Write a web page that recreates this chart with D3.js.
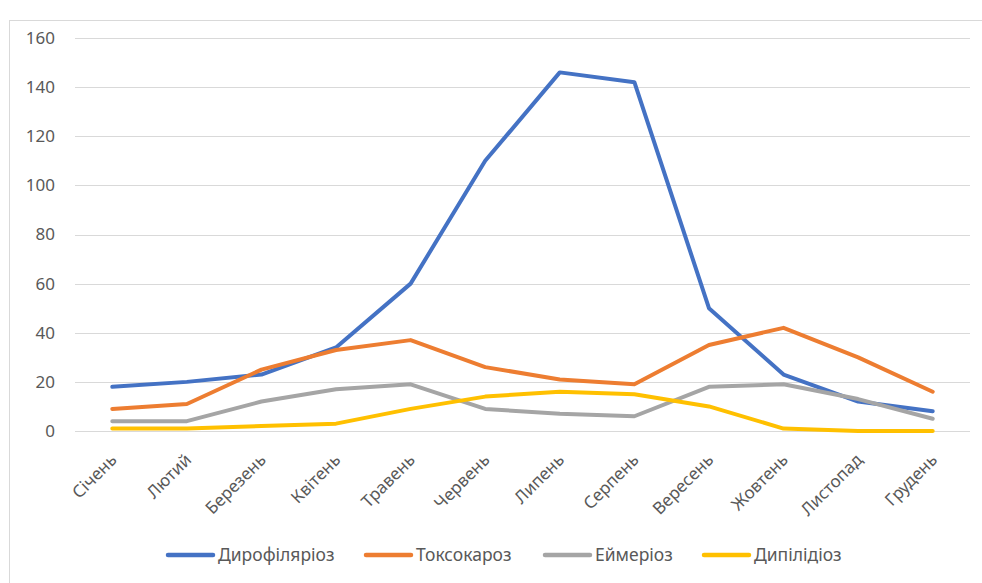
<!DOCTYPE html>
<html><head><meta charset="utf-8">
<script src="https://cdn.jsdelivr.net/npm/d3@7"></script>
<style>html,body{margin:0;padding:0;background:#fff;}svg{display:block;}</style>
</head><body>
<svg id="c" width="982" height="583"></svg>
<script>
const months = ["Січень","Лютий","Березень","Квітень","Травень","Червень","Липень","Серпень","Вересень","Жовтень","Листопад","Грудень"];
const seriesNames = ["Дирофіляріоз","Токсокароз","Еймеріоз","Дипілідіоз"];
const dirofilariasis = [18,20,23,34,60,110,146,142,50,23,12,8];
const toxocarosis = [9,11,25,33,37,26,21,19,35,42,30,16];
const eimeriosis = [4,4,12,17,19,9,7,6,18,19,13,5];
const dipylidiosis = [1,1,2,3,9,14,16,15,10,1,0,0];
const yTicks = [0,20,40,60,80,100,120,140,160];
const colors = ["#4472C4","#ED7D31","#A5A5A5","#FFC000"];
const allSeries = [dirofilariasis, toxocarosis, eimeriosis, dipylidiosis];

const svg = d3.select("#c");
const font = "'Noto Sans', 'Open Sans', sans-serif";

// chart frame
svg.append("rect").attr("x",9.5).attr("y",20.5).attr("width",1100).attr("height",700)
  .attr("fill","#fff").attr("stroke","#d9d9d9").attr("stroke-width",1);

const x = d3.scalePoint().domain(months).range([75,970]).padding(0.5);
const y = d3.scaleLinear().domain([0,160]).range([431,38]);

// gridlines
svg.append("g").selectAll("line").data(yTicks).join("line")
  .attr("x1",75).attr("x2",970)
  .attr("y1",d=>Math.round(y(d))+0.5).attr("y2",d=>Math.round(y(d))+0.5)
  .attr("stroke","#d9d9d9").attr("stroke-width",1);

// y axis labels
const yAxis = d3.axisLeft(y).tickValues(yTicks).tickSize(0).tickPadding(0);
const ga = svg.append("g").attr("transform","translate(55,0)").call(yAxis);
ga.select(".domain").remove();
ga.selectAll("text").attr("font-family",font).attr("font-size",17).attr("fill","#595959");

// x axis labels
const xAxis = d3.axisBottom(x).tickSize(0).tickPadding(0);
const gx = svg.append("g").attr("transform","translate(0,431)").call(xAxis);
gx.select(".domain").remove();
gx.selectAll("text")
  .attr("font-family",font).attr("font-size",17).attr("fill","#595959")
  .attr("text-anchor","end").attr("dy",null).attr("y",0)
  .attr("transform","translate(5,30) rotate(-45)");

// lines
const line = d3.line().x((d,i)=>x(months[i])).y(d=>y(d));
svg.append("g").selectAll("path").data(allSeries).join("path")
  .attr("d",d=>line(d)).attr("fill","none")
  .attr("stroke",(d,i)=>colors[i]).attr("stroke-width",4)
  .attr("stroke-linejoin","round").attr("stroke-linecap","round");

// legend
const legX = [168,366,545,704];
const lg = svg.append("g");
seriesNames.forEach((n,i)=>{
  lg.append("line").attr("x1",legX[i]).attr("x2",legX[i]+45).attr("y1",555).attr("y2",555)
    .attr("stroke",colors[i]).attr("stroke-width",4.5).attr("stroke-linecap","round");
  lg.append("text").attr("x",legX[i]+50).attr("y",561).text(n)
    .attr("font-family",font).attr("font-size",17.5).attr("fill","#595959");
});
</script>
</body></html>
